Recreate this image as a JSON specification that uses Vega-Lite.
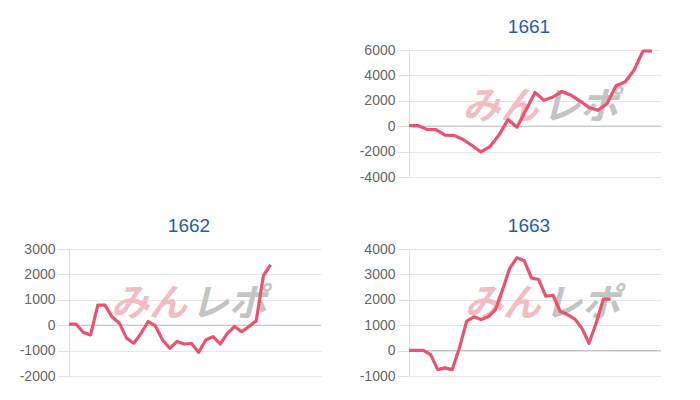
{
  "$schema": "https://vega.github.io/schema/vega-lite/v6.json",
  "background": "white",
  "padding": {"left": 19, "top": 18, "right": 5, "bottom": 5},
  "columns": 2,
  "spacing": {"row": 33, "column": 37},
  "config": {
    "view": {"stroke": null},
    "axisY": {
      "labelFont": "Liberation Sans",
      "labelFontSize": 14,
      "labelColor": "#666666",
      "labelOverlap": false,
      "labelExpr": "'' + datum.value",
      "grid": true,
      "gridColor": "#e6e6e6",
      "domainColor": "#e0e0e0",
      "tickColor": "#e0e0e0",
      "tickSize": 12,
      "labelPadding": 2,
      "title": null
    },
    "title": {
      "font": "Liberation Sans",
      "fontSize": 19,
      "fontWeight": "normal",
      "color": "#1f5fa8",
      "offset": 6,
      "frame": "group",
      "dx": -6
    }
  },
  "datasets": {
    "s1661": [
      {"i": 0, "v": 50}, {"i": 1, "v": 50}, {"i": 2, "v": -260}, {"i": 3, "v": -270},
      {"i": 4, "v": -700}, {"i": 5, "v": -720}, {"i": 6, "v": -1050}, {"i": 7, "v": -1520},
      {"i": 8, "v": -2030}, {"i": 9, "v": -1600}, {"i": 10, "v": -700}, {"i": 11, "v": 520},
      {"i": 12, "v": -80}, {"i": 13, "v": 1280}, {"i": 14, "v": 2650}, {"i": 15, "v": 2040},
      {"i": 16, "v": 2300}, {"i": 17, "v": 2740}, {"i": 18, "v": 2440}, {"i": 19, "v": 1980},
      {"i": 20, "v": 1480}, {"i": 21, "v": 1250}, {"i": 22, "v": 1770}, {"i": 23, "v": 3180},
      {"i": 24, "v": 3480}, {"i": 25, "v": 4400}, {"i": 26, "v": 5920}, {"i": 27, "v": 5920}
    ],
    "s1662": [
      {"i": 0, "v": 40}, {"i": 1, "v": 40}, {"i": 2, "v": -290}, {"i": 3, "v": -380},
      {"i": 4, "v": 790}, {"i": 5, "v": 790}, {"i": 6, "v": 320}, {"i": 7, "v": 80},
      {"i": 8, "v": -510}, {"i": 9, "v": -710}, {"i": 10, "v": -320}, {"i": 11, "v": 145},
      {"i": 12, "v": -30}, {"i": 13, "v": -580}, {"i": 14, "v": -910}, {"i": 15, "v": -640},
      {"i": 16, "v": -740}, {"i": 17, "v": -710}, {"i": 18, "v": -1070}, {"i": 19, "v": -580},
      {"i": 20, "v": -450}, {"i": 21, "v": -740}, {"i": 22, "v": -320}, {"i": 23, "v": -50},
      {"i": 24, "v": -260}, {"i": 25, "v": -50}, {"i": 26, "v": 170}, {"i": 27, "v": 1950},
      {"i": 28, "v": 2380}
    ],
    "s1663": [
      {"i": 0, "v": 10}, {"i": 1, "v": 10}, {"i": 2, "v": 10}, {"i": 3, "v": -160},
      {"i": 4, "v": -750}, {"i": 5, "v": -680}, {"i": 6, "v": -750}, {"i": 7, "v": 100},
      {"i": 8, "v": 1150}, {"i": 9, "v": 1330}, {"i": 10, "v": 1220}, {"i": 11, "v": 1330},
      {"i": 12, "v": 1610}, {"i": 13, "v": 2400}, {"i": 14, "v": 3250}, {"i": 15, "v": 3660},
      {"i": 16, "v": 3540}, {"i": 17, "v": 2860}, {"i": 18, "v": 2800}, {"i": 19, "v": 2140},
      {"i": 20, "v": 2180}, {"i": 21, "v": 1550}, {"i": 22, "v": 1420}, {"i": 23, "v": 1250},
      {"i": 24, "v": 890}, {"i": 25, "v": 290}, {"i": 26, "v": 1090}, {"i": 27, "v": 2030},
      {"i": 28, "v": 2030}
    ],
    "blank": [{"k": 1}]
  },
  "concat": [
    {
      "width": 252,
      "height": 127,
      "data": {"name": "blank"},
      "mark": {"type": "text", "text": ""}
    },
    {
      "title": {"text": "1661"},
      "width": 252,
      "height": 127,
      "layer": [
        {
          "data": {"name": "blank"},
          "mark": {"type": "text", "text": "みん", "align": "right", "baseline": "middle", "font": "Noto Sans CJK JP", "fontWeight": "bold", "fontStyle": "italic", "fontSize": 38, "color": "#f3bcc2"},
          "encoding": {"x": {"datum": 14.4, "axis": null}, "y": {"datum": 1450, "axis": {"values": [-4000, -2000, 0, 2000, 4000, 6000]}}}
        },
        {
          "data": {"name": "blank"},
          "mark": {"type": "text", "text": "レポ", "align": "left", "baseline": "middle", "font": "Noto Sans CJK JP", "fontWeight": "bold", "fontStyle": "italic", "fontSize": 38, "color": "#c4c4c4"},
          "encoding": {"x": {"datum": 14.8, "axis": null}, "y": {"datum": 1450, "axis": {"values": [-4000, -2000, 0, 2000, 4000, 6000]}}}
        },
        {
          "data": {"name": "blank"},
          "mark": {"type": "rule", "color": "#bdbdbd", "strokeWidth": 1},
          "encoding": {"y": {"datum": 0, "axis": {"values": [-4000, -2000, 0, 2000, 4000, 6000]}}}
        },
        {
          "data": {"name": "s1661"},
          "mark": {"type": "line", "color": "#e9536f", "strokeWidth": 3.2, "strokeJoin": "round"},
          "encoding": {
            "x": {"field": "i", "type": "quantitative", "scale": {"domain": [0, 27]}, "axis": null},
            "y": {"field": "v", "type": "quantitative", "scale": {"domain": [-4000, 6000], "nice": false}, "axis": {"values": [-4000, -2000, 0, 2000, 4000, 6000]}}
          }
        }
      ]
    },
    {
      "title": {"text": "1662"},
      "width": 252,
      "height": 127,
      "layer": [
        {
          "data": {"name": "blank"},
          "mark": {"type": "text", "text": "みん", "align": "right", "baseline": "middle", "font": "Noto Sans CJK JP", "fontWeight": "bold", "fontStyle": "italic", "fontSize": 38, "color": "#f3bcc2"},
          "encoding": {"x": {"datum": 16.4, "axis": null}, "y": {"datum": 780, "axis": {"values": [-2000, -1000, 0, 1000, 2000, 3000]}}}
        },
        {
          "data": {"name": "blank"},
          "mark": {"type": "text", "text": "レポ", "align": "left", "baseline": "middle", "font": "Noto Sans CJK JP", "fontWeight": "bold", "fontStyle": "italic", "fontSize": 38, "color": "#c4c4c4"},
          "encoding": {"x": {"datum": 16.9, "axis": null}, "y": {"datum": 780, "axis": {"values": [-2000, -1000, 0, 1000, 2000, 3000]}}}
        },
        {
          "data": {"name": "blank"},
          "mark": {"type": "rule", "color": "#bdbdbd", "strokeWidth": 1},
          "encoding": {"y": {"datum": 0, "axis": {"values": [-2000, -1000, 0, 1000, 2000, 3000]}}}
        },
        {
          "data": {"name": "s1662"},
          "mark": {"type": "line", "color": "#e9536f", "strokeWidth": 3.2, "strokeJoin": "round"},
          "encoding": {
            "x": {"field": "i", "type": "quantitative", "scale": {"domain": [0, 31]}, "axis": null},
            "y": {"field": "v", "type": "quantitative", "scale": {"domain": [-2000, 3000], "nice": false}, "axis": {"values": [-2000, -1000, 0, 1000, 2000, 3000]}}
          }
        }
      ]
    },
    {
      "title": {"text": "1663"},
      "width": 252,
      "height": 127,
      "layer": [
        {
          "data": {"name": "blank"},
          "mark": {"type": "text", "text": "みん", "align": "right", "baseline": "middle", "font": "Noto Sans CJK JP", "fontWeight": "bold", "fontStyle": "italic", "fontSize": 38, "color": "#f3bcc2"},
          "encoding": {"x": {"datum": 18.3, "axis": null}, "y": {"datum": 1800, "axis": {"values": [-1000, 0, 1000, 2000, 3000, 4000]}}}
        },
        {
          "data": {"name": "blank"},
          "mark": {"type": "text", "text": "レポ", "align": "left", "baseline": "middle", "font": "Noto Sans CJK JP", "fontWeight": "bold", "fontStyle": "italic", "fontSize": 38, "color": "#c4c4c4"},
          "encoding": {"x": {"datum": 18.8, "axis": null}, "y": {"datum": 1800, "axis": {"values": [-1000, 0, 1000, 2000, 3000, 4000]}}}
        },
        {
          "data": {"name": "blank"},
          "mark": {"type": "rule", "color": "#bdbdbd", "strokeWidth": 1},
          "encoding": {"y": {"datum": 0, "axis": {"values": [-1000, 0, 1000, 2000, 3000, 4000]}}}
        },
        {
          "data": {"name": "s1663"},
          "mark": {"type": "line", "color": "#e9536f", "strokeWidth": 3.2, "strokeJoin": "round"},
          "encoding": {
            "x": {"field": "i", "type": "quantitative", "scale": {"domain": [0, 34]}, "axis": null},
            "y": {"field": "v", "type": "quantitative", "scale": {"domain": [-1000, 4000], "nice": false}, "axis": {"values": [-1000, 0, 1000, 2000, 3000, 4000]}}
          }
        }
      ]
    }
  ]
}
